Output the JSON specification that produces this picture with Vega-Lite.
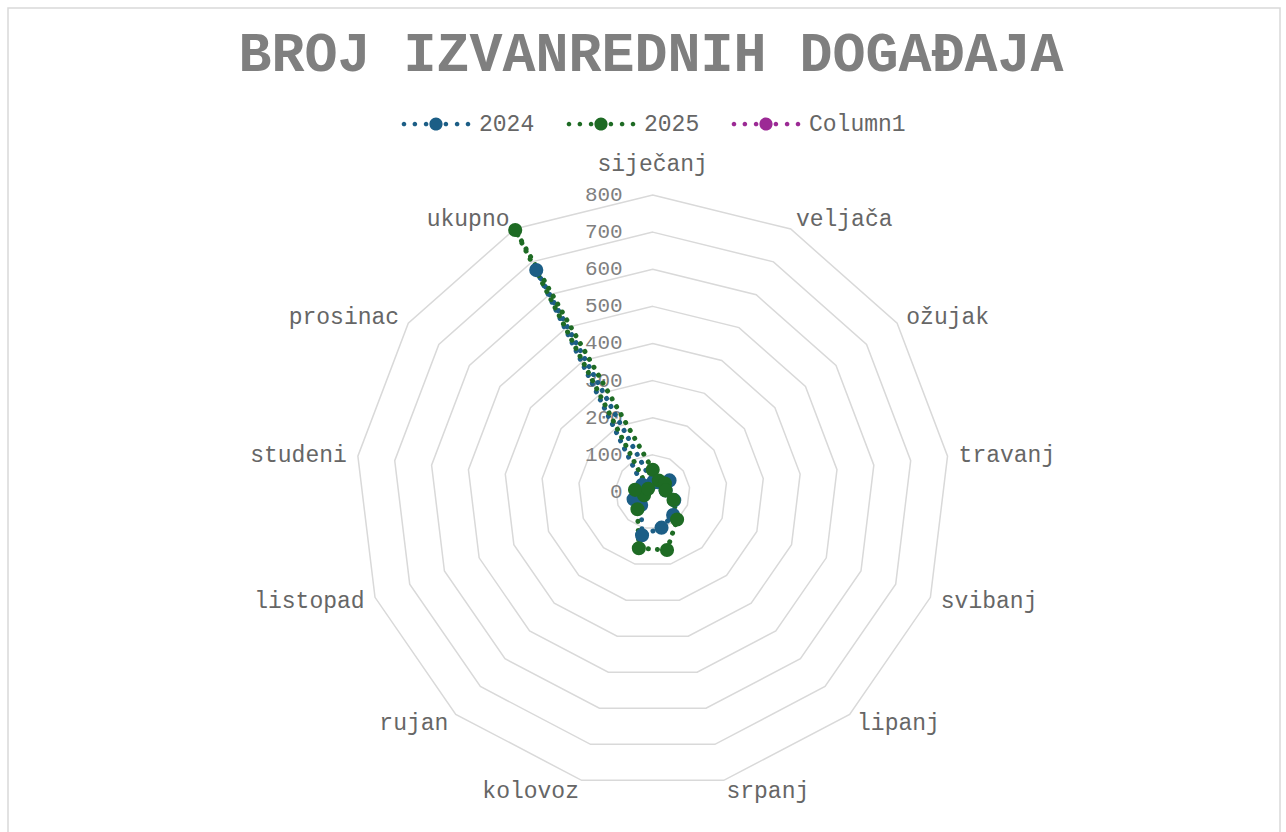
{
  "$schema": "https://vega.github.io/schema/vega-lite/v6.json",
  "autosize": {"type": "none"},
  "padding": {"left": 8, "top": 8, "right": 6, "bottom": 0},
  "width": 1272,
  "height": 830,
  "background": "#ffffff",
  "config": {
    "view": {"stroke": "#d9d9d9", "strokeWidth": 1.5},
    "font": "Liberation Mono"
  },
  "title": {
    "text": "BROJ IZVANREDNIH DOGAĐAJA",
    "orient": "top",
    "anchor": "middle",
    "frame": "group",
    "offset": -75,
    "dx": 7,
    "fontSize": 55,
    "font": "Liberation Mono",
    "fontWeight": "bold",
    "color": "#7f7f7f"
  },
  "datasets": {
    "grid": [
      {"ring": 100, "i": [0,1,2,3,4,5,6,7,8,9,10,11,12]},
      {"ring": 200, "i": [0,1,2,3,4,5,6,7,8,9,10,11,12]},
      {"ring": 300, "i": [0,1,2,3,4,5,6,7,8,9,10,11,12]},
      {"ring": 400, "i": [0,1,2,3,4,5,6,7,8,9,10,11,12]},
      {"ring": 500, "i": [0,1,2,3,4,5,6,7,8,9,10,11,12]},
      {"ring": 600, "i": [0,1,2,3,4,5,6,7,8,9,10,11,12]},
      {"ring": 700, "i": [0,1,2,3,4,5,6,7,8,9,10,11,12]},
      {"ring": 800, "i": [0,1,2,3,4,5,6,7,8,9,10,11,12]}
    ],
    "ticks": [
      {"v": 0}, {"v": 100}, {"v": 200}, {"v": 300}, {"v": 400},
      {"v": 500}, {"v": 600}, {"v": 700}, {"v": 800}
    ],
    "cats": [
      {"c": "siječanj", "i": 0},
      {"c": "veljača", "i": 1},
      {"c": "ožujak", "i": 2},
      {"c": "travanj", "i": 3},
      {"c": "svibanj", "i": 4},
      {"c": "lipanj", "i": 5},
      {"c": "srpanj", "i": 6},
      {"c": "kolovoz", "i": 7},
      {"c": "rujan", "i": 8},
      {"c": "listopad", "i": 9},
      {"c": "studeni", "i": 10},
      {"c": "prosinac", "i": 11},
      {"c": "ukupno", "i": 12}
    ],
    "series": [
      {"s": "2024", "c": "siječanj", "i": 0, "v": 25},
      {"s": "2024", "c": "veljača", "i": 1, "v": 30},
      {"s": "2024", "c": "ožujak", "i": 2, "v": 55},
      {"s": "2024", "c": "travanj", "i": 3, "v": 35},
      {"s": "2024", "c": "svibanj", "i": 4, "v": 62},
      {"s": "2024", "c": "lipanj", "i": 5, "v": 83},
      {"s": "2024", "c": "srpanj", "i": 6, "v": 99},
      {"s": "2024", "c": "kolovoz", "i": 7, "v": 120},
      {"s": "2024", "c": "rujan", "i": 8, "v": 47},
      {"s": "2024", "c": "listopad", "i": 9, "v": 55},
      {"s": "2024", "c": "studeni", "i": 10, "v": 30},
      {"s": "2024", "c": "prosinac", "i": 11, "v": 34},
      {"s": "2024", "c": "ukupno", "i": 12, "v": 675},
      {"s": "2025", "c": "siječanj", "i": 0, "v": 60},
      {"s": "2025", "c": "veljača", "i": 1, "v": 35},
      {"s": "2025", "c": "ožujak", "i": 2, "v": 40},
      {"s": "2025", "c": "travanj", "i": 3, "v": 35},
      {"s": "2025", "c": "svibanj", "i": 4, "v": 60},
      {"s": "2025", "c": "lipanj", "i": 5, "v": 99},
      {"s": "2025", "c": "srpanj", "i": 6, "v": 161},
      {"s": "2025", "c": "kolovoz", "i": 7, "v": 156},
      {"s": "2025", "c": "rujan", "i": 8, "v": 62},
      {"s": "2025", "c": "listopad", "i": 9, "v": 25},
      {"s": "2025", "c": "studeni", "i": 10, "v": 48},
      {"s": "2025", "c": "prosinac", "i": 11, "v": 15},
      {"s": "2025", "c": "ukupno", "i": 12, "v": 797}
    ]
  },
  "layer": [
    {
      "data": {"name": "grid"},
      "transform": [
        {"flatten": ["i"]},
        {"calculate": "datum.i * 2 * PI / 13", "as": "a"},
        {"calculate": "datum.ring * sin(datum.a)", "as": "x"},
        {"calculate": "datum.ring * cos(datum.a)", "as": "y"}
      ],
      "mark": {"type": "line", "interpolate": "linear-closed", "stroke": "#d9d9d9", "strokeWidth": 1.5},
      "encoding": {
        "x": {"field": "x", "type": "quantitative", "scale": {"domain": [-1736.6, 1689.7], "nice": false, "zero": false}, "axis": null},
        "y": {"field": "y", "type": "quantitative", "scale": {"domain": [-932.0, 1303.7], "nice": false, "zero": false}, "axis": null},
        "detail": {"field": "ring", "type": "nominal"},
        "order": {"field": "i", "type": "quantitative"}
      }
    },
    {
      "data": {"name": "ticks"},
      "transform": [
        {"calculate": "0", "as": "x"}
      ],
      "mark": {"type": "text", "align": "right", "baseline": "middle", "dx": -30, "fontSize": 21, "font": "Liberation Mono", "color": "#7f7f7f"},
      "encoding": {
        "x": {"field": "x", "type": "quantitative", "scale": {"domain": [-1736.6, 1689.7], "nice": false, "zero": false}, "axis": null},
        "y": {"field": "v", "type": "quantitative", "scale": {"domain": [-932.0, 1303.7], "nice": false, "zero": false}, "axis": null},
        "text": {"field": "v", "type": "quantitative", "format": "d"}
      }
    },
    {
      "data": {"name": "cats"},
      "transform": [
        {"calculate": "datum.i * 2 * PI / 13", "as": "a"},
        {"filter": "sin(datum.a) > 0.05"},
        {"calculate": "830 * sin(datum.a)", "as": "x"},
        {"calculate": "830 * cos(datum.a)", "as": "y"}
      ],
      "mark": {"type": "text", "align": "left", "baseline": "middle", "fontSize": 23, "font": "Liberation Mono", "color": "#666666"},
      "encoding": {
        "x": {"field": "x", "type": "quantitative", "scale": {"domain": [-1736.6, 1689.7], "nice": false, "zero": false}, "axis": null},
        "y": {"field": "y", "type": "quantitative", "scale": {"domain": [-932.0, 1303.7], "nice": false, "zero": false}, "axis": null},
        "text": {"field": "c", "type": "nominal"}
      }
    },
    {
      "data": {"name": "cats"},
      "transform": [
        {"calculate": "datum.i * 2 * PI / 13", "as": "a"},
        {"filter": "sin(datum.a) < -0.05"},
        {"calculate": "830 * sin(datum.a)", "as": "x"},
        {"calculate": "830 * cos(datum.a)", "as": "y"}
      ],
      "mark": {"type": "text", "align": "right", "baseline": "middle", "fontSize": 23, "font": "Liberation Mono", "color": "#666666"},
      "encoding": {
        "x": {"field": "x", "type": "quantitative", "scale": {"domain": [-1736.6, 1689.7], "nice": false, "zero": false}, "axis": null},
        "y": {"field": "y", "type": "quantitative", "scale": {"domain": [-932.0, 1303.7], "nice": false, "zero": false}, "axis": null},
        "text": {"field": "c", "type": "nominal"}
      }
    },
    {
      "data": {"name": "cats"},
      "transform": [
        {"calculate": "datum.i * 2 * PI / 13", "as": "a"},
        {"filter": "abs(sin(datum.a)) <= 0.05"},
        {"calculate": "850 * sin(datum.a)", "as": "x"},
        {"calculate": "850 * cos(datum.a)", "as": "y"}
      ],
      "mark": {"type": "text", "align": "center", "baseline": "bottom", "fontSize": 23, "font": "Liberation Mono", "color": "#666666"},
      "encoding": {
        "x": {"field": "x", "type": "quantitative", "scale": {"domain": [-1736.6, 1689.7], "nice": false, "zero": false}, "axis": null},
        "y": {"field": "y", "type": "quantitative", "scale": {"domain": [-932.0, 1303.7], "nice": false, "zero": false}, "axis": null},
        "text": {"field": "c", "type": "nominal"}
      }
    },
    {
      "data": {"name": "series"},
      "transform": [
        {"calculate": "datum.i * 2 * PI / 13", "as": "a"},
        {"calculate": "datum.v * sin(datum.a)", "as": "x"},
        {"calculate": "datum.v * cos(datum.a)", "as": "y"}
      ],
      "mark": {"type": "line", "interpolate": "linear-closed", "strokeWidth": 5, "strokeDash": [0.1, 9], "strokeCap": "round"},
      "encoding": {
        "x": {"field": "x", "type": "quantitative", "scale": {"domain": [-1736.6, 1689.7], "nice": false, "zero": false}, "axis": null},
        "y": {"field": "y", "type": "quantitative", "scale": {"domain": [-932.0, 1303.7], "nice": false, "zero": false}, "axis": null},
        "color": {"field": "s", "type": "nominal", "scale": {"domain": ["2024", "2025", "Column1"], "range": ["#1c5e86", "#1e6b24", "#9c2a95"]}},
        "detail": {"field": "s", "type": "nominal"},
        "order": {"field": "i", "type": "quantitative"}
      }
    },
    {
      "data": {"name": "series"},
      "transform": [
        {"calculate": "datum.i * 2 * PI / 13", "as": "a"},
        {"calculate": "datum.v * sin(datum.a)", "as": "x"},
        {"calculate": "datum.v * cos(datum.a)", "as": "y"}
      ],
      "mark": {"type": "point", "filled": true, "opacity": 1, "size": 200, "shape": "circle"},
      "encoding": {
        "x": {"field": "x", "type": "quantitative", "scale": {"domain": [-1736.6, 1689.7], "nice": false, "zero": false}, "axis": null},
        "y": {"field": "y", "type": "quantitative", "scale": {"domain": [-932.0, 1303.7], "nice": false, "zero": false}, "axis": null},
        "color": {
          "field": "s",
          "type": "nominal",
          "scale": {"domain": ["2024", "2025", "Column1"], "range": ["#1c5e86", "#1e6b24", "#9c2a95"]},
          "legend": {
            "title": null,
            "orient": "none",
            "direction": "horizontal",
            "legendX": 395,
            "legendY": 83,
            "symbolType": "M-1.04,0A0.07,0.07,0,1,1,-0.9,0A0.07,0.07,0,1,1,-1.04,0ZM-0.71,0A0.07,0.07,0,1,1,-0.57,0A0.07,0.07,0,1,1,-0.71,0ZM-0.37,0A0.07,0.07,0,1,1,-0.23,0A0.07,0.07,0,1,1,-0.37,0ZM-0.2,0A0.2,0.2,0,1,1,0.2,0A0.2,0.2,0,1,1,-0.2,0ZM0.23,0A0.07,0.07,0,1,1,0.37,0A0.07,0.07,0,1,1,0.23,0ZM0.57,0A0.07,0.07,0,1,1,0.71,0A0.07,0.07,0,1,1,0.57,0ZM0.9,0A0.07,0.07,0,1,1,1.04,0A0.07,0.07,0,1,1,0.9,0Z",
            "symbolSize": 4356,
            "symbolStrokeWidth": 0,
            "symbolOpacity": 1,
            "symbolFillColor": null,
            "labelFont": "Liberation Mono",
            "labelFontSize": 23,
            "labelColor": "#666666",
            "labelOffset": 10,
            "columnPadding": 31
          }
        }
      }
    }
  ]
}
